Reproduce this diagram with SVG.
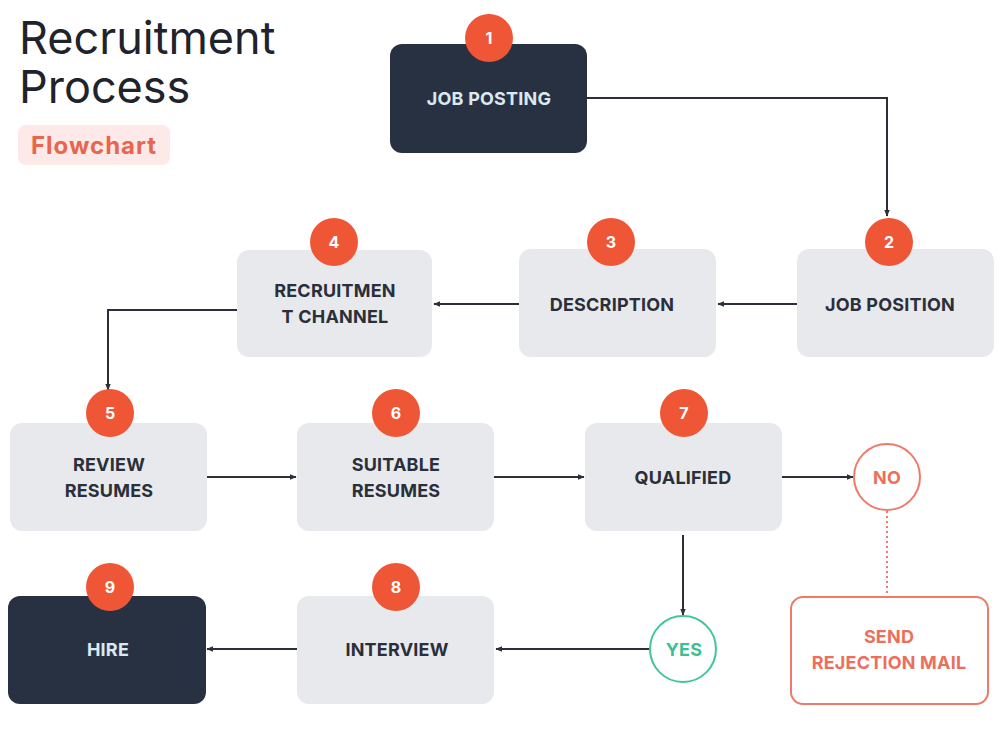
<svg xmlns="http://www.w3.org/2000/svg" width="1000" height="750" viewBox="0 0 1000 750">
<defs>
<marker id="arr" viewBox="0 0 10 10" refX="9" refY="5" markerWidth="7" markerHeight="7" orient="auto" markerUnits="userSpaceOnUse">
<path d="M0,1 L10,5 L0,9 Z" fill="#2b2f38"/>
</marker>
<style>
.light{fill:#e8e9ec}
.dark{fill:#283142}
.badge{fill:#ef5636}
.bnum{font-family:"Inter","Liberation Sans",sans-serif;font-weight:700;font-size:16px;fill:#ffffff;text-anchor:middle}
.lbl{font-family:"Inter","Liberation Sans",sans-serif;font-weight:700;font-size:18px;fill:#2a2f3a;text-anchor:middle;letter-spacing:0.2px}
.lblw{font-family:"Inter","Liberation Sans",sans-serif;font-weight:700;font-size:18px;fill:#dce8f0;text-anchor:middle;letter-spacing:0.2px}
.red{font-family:"Inter","Liberation Sans",sans-serif;font-weight:700;font-size:18px;fill:#ec6f5c;text-anchor:middle;letter-spacing:0.2px}
.conn{fill:none;stroke:#2b2f38;stroke-width:2}
</style>
</defs>
<rect width="1000" height="750" fill="#ffffff"/>
<g id="title">
<text x="19" y="54" font-family="Inter,'Liberation Sans',sans-serif" font-size="45" fill="#1f232b">Recruitment</text>
<text x="19" y="103" font-family="Inter,'Liberation Sans',sans-serif" font-size="45" fill="#1f232b">Process</text>
<rect x="18" y="125" width="152" height="40" rx="8" fill="#fde9e7"/>
<text x="94" y="154" text-anchor="middle" font-family="Inter,'Liberation Sans',sans-serif" font-weight="700" font-size="24" letter-spacing="1" fill="#e8654f">Flowchart</text>
</g>
<g id="connectors">
<polyline class="conn" points="587,98 887,98 887,216" marker-end="url(#arr)"/>
<line class="conn" x1="797" y1="304" x2="718" y2="304" marker-end="url(#arr)"/>
<line class="conn" x1="519" y1="304" x2="434" y2="304" marker-end="url(#arr)"/>
<polyline class="conn" points="237,310 108,310 108,390" marker-end="url(#arr)"/>
<line class="conn" x1="207" y1="477" x2="296" y2="477" marker-end="url(#arr)"/>
<line class="conn" x1="494" y1="477" x2="584" y2="477" marker-end="url(#arr)"/>
<line class="conn" x1="782" y1="477" x2="853" y2="477" marker-end="url(#arr)"/>
<line class="conn" x1="683" y1="535" x2="683" y2="615" marker-end="url(#arr)"/>
<line class="conn" x1="650" y1="649" x2="496" y2="649" marker-end="url(#arr)"/>
<line class="conn" x1="297" y1="649" x2="207" y2="649" marker-end="url(#arr)"/>
<line x1="887" y1="511" x2="887" y2="597" stroke="#ef7a6a" stroke-width="2" stroke-dasharray="2,3"/>
</g>
<g id="n1">
<rect class="dark" x="390" y="44" width="197" height="109" rx="12"/>
<circle class="badge" cx="489" cy="38" r="24"/>
<text class="bnum" x="489" y="44">1</text>
<text class="lblw" x="489" y="105">JOB POSTING</text>
</g>
<g id="n2">
<rect class="light" x="797" y="249" width="197" height="108" rx="12"/>
<circle class="badge" cx="889" cy="242" r="24"/>
<text class="bnum" x="889" y="248">2</text>
<text class="lbl" x="890" y="311">JOB POSITION</text>
</g>
<g id="n3">
<rect class="light" x="519" y="249" width="197" height="108" rx="12"/>
<circle class="badge" cx="611" cy="242" r="24"/>
<text class="bnum" x="611" y="248">3</text>
<text class="lbl" x="612" y="311">DESCRIPTION</text>
</g>
<g id="n4">
<rect class="light" x="237" y="250" width="195" height="107" rx="12"/>
<circle class="badge" cx="334" cy="242" r="24"/>
<text class="bnum" x="334" y="248">4</text>
<text class="lbl" x="335" y="297">RECRUITMEN</text>
<text class="lbl" x="335" y="323">T CHANNEL</text>
</g>
<g id="n5">
<rect class="light" x="10" y="423" width="197" height="108" rx="12"/>
<circle class="badge" cx="110" cy="413" r="24"/>
<text class="bnum" x="110" y="419">5</text>
<text class="lbl" x="109" y="471">REVIEW</text>
<text class="lbl" x="109" y="497">RESUMES</text>
</g>
<g id="n6">
<rect class="light" x="297" y="423" width="197" height="108" rx="12"/>
<circle class="badge" cx="396" cy="413" r="24"/>
<text class="bnum" x="396" y="419">6</text>
<text class="lbl" x="396" y="471">SUITABLE</text>
<text class="lbl" x="396" y="497">RESUMES</text>
</g>
<g id="n7">
<rect class="light" x="585" y="423" width="197" height="108" rx="12"/>
<circle class="badge" cx="684" cy="413" r="24"/>
<text class="bnum" x="684" y="419">7</text>
<text class="lbl" x="683" y="484">QUALIFIED</text>
</g>
<g id="no">
<circle cx="887" cy="477" r="33" fill="#ffffff" stroke="#ef7a6a" stroke-width="2"/>
<text class="red" x="887" y="484">NO</text>
</g>
<g id="yes">
<circle cx="683" cy="649" r="33" fill="#ffffff" stroke="#3fc79a" stroke-width="2"/>
<text x="684" y="656" text-anchor="middle" font-family="Inter,'Liberation Sans',sans-serif" font-weight="700" font-size="18" fill="#3cbf92" letter-spacing="0.2">YES</text>
</g>
<g id="rejection">
<rect x="791" y="597" width="197" height="107" rx="12" fill="#ffffff" stroke="#ef7a6a" stroke-width="2"/>
<text class="red" x="889" y="643">SEND</text>
<text class="red" x="889" y="669">REJECTION MAIL</text>
</g>
<g id="n8">
<rect class="light" x="297" y="596" width="197" height="108" rx="12"/>
<circle class="badge" cx="396" cy="587" r="24"/>
<text class="bnum" x="396" y="593">8</text>
<text class="lbl" x="397" y="656">INTERVIEW</text>
</g>
<g id="n9">
<rect class="dark" x="8" y="596" width="198" height="108" rx="12"/>
<circle class="badge" cx="110" cy="587" r="24"/>
<text class="bnum" x="110" y="593">9</text>
<text class="lblw" x="108" y="656">HIRE</text>
</g>
</svg>
